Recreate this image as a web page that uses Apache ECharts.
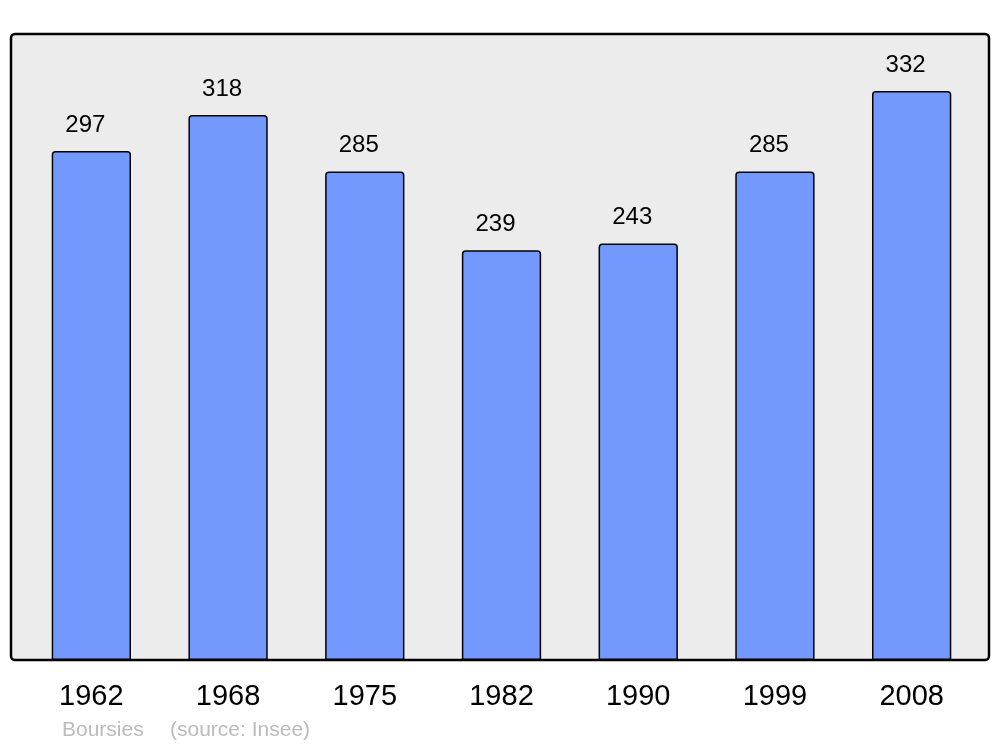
<!DOCTYPE html>
<html>
<head>
<meta charset="utf-8">
<script src="https://cdn.jsdelivr.net/npm/echarts@6/dist/echarts.min.js"></script>
<style>html,body{margin:0;padding:0;background:#fff}#c{width:1000px;height:747px}</style>
</head>
<body>
<div id="c"></div>
<script>
const years = ['1962','1968','1975','1982','1990','1999','2008'];
const population = [297, 318, 285, 239, 243, 285, 332];
const footerName = 'Boursies';
const footerSource = '(source: Insee)';

const chart = echarts.init(document.getElementById('c'), null, {renderer: 'canvas'});
chart.setOption({
  animation: false,
  textStyle: {fontFamily: 'Liberation Sans, Arial, sans-serif'},
  grid: {left: 23, right: 20, top: 34, bottom: 87},
  graphic: [
    {type: 'rect', z: -10, shape: {x: 11, y: 34, width: 978, height: 626, r: 4},
     style: {fill: '#ececec', stroke: '#000', lineWidth: 2.5}},
    {type: 'text', left: 62, top: 720, style: {text: footerName, fill: '#bbbbbb', font: '21px Liberation Sans, Arial, sans-serif'}},
    {type: 'text', left: 170, top: 720, style: {text: footerSource, fill: '#bbbbbb', font: '21px Liberation Sans, Arial, sans-serif'}}
  ],
  xAxis: {
    type: 'category', data: years,
    axisLine: {show: false}, axisTick: {show: false},
    axisLabel: {color: '#000', fontSize: 29, margin: 22, fontFamily: 'Liberation Sans, Arial, sans-serif'}
  },
  yAxis: {type: 'value', min: 0, max: 365.2, show: false, splitLine: {show: false}},
  series: [{
    type: 'bar', data: population, barWidth: '58%',
    itemStyle: {color: '#7399ff', borderColor: '#000', borderWidth: 1.5, borderRadius: [3,3,0,0]},
    label: {show: true, position: 'top', distance: 14, offset: [-6, 0], color: '#000', fontSize: 24, fontFamily: 'Liberation Sans, Arial, sans-serif'}
  }]
});
</script>
</body>
</html>
